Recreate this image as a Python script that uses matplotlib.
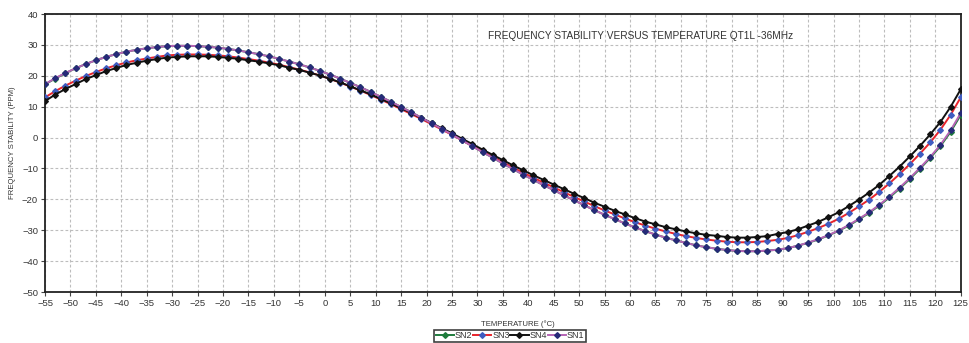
import numpy as np
import matplotlib
matplotlib.use("Agg")
import matplotlib.pyplot as plt
from matplotlib.lines import Line2D

plt.rcParams['font.family'] = ['Liberation Sans', 'DejaVu Sans']

temps = np.arange(-55, 126, 2)

sn1 = [17.3, 19.2, 20.9, 22.4, 23.8, 25.0, 26.1, 27.0, 27.8, 28.4,
       28.9, 29.3, 29.6, 29.7, 29.7, 29.6, 29.4, 29.1, 28.7, 28.2,
       27.6, 27.0, 26.3, 25.5, 24.6, 23.7, 22.7, 21.6, 20.4, 19.1,
       17.7, 16.3, 14.8, 13.2, 11.6, 9.9, 8.2, 6.4, 4.6, 2.8,
       1.0, -0.9, -2.8, -4.7, -6.5, -8.4, -10.2, -12.0, -13.7, -15.4,
       -17.0, -18.7, -20.3, -21.9, -23.5, -25.0, -26.4, -27.8, -29.1, -30.3,
       -31.4, -32.4, -33.3, -34.1, -34.9, -35.5, -36.0, -36.4, -36.7, -36.8,
       -36.8, -36.6, -36.3, -35.8, -35.0, -34.0, -32.9, -31.6, -30.1, -28.3,
       -26.3, -24.2, -21.8, -19.1, -16.2, -13.1, -9.8, -6.3, -2.4, 2.3,
       7.9]

sn2 = [17.2, 19.1, 20.8, 22.4, 23.8, 25.0, 26.1, 27.0, 27.8, 28.4,
       28.9, 29.3, 29.6, 29.7, 29.7, 29.6, 29.4, 29.1, 28.7, 28.2,
       27.6, 27.0, 26.3, 25.5, 24.6, 23.7, 22.7, 21.6, 20.4, 19.1,
       17.7, 16.3, 14.8, 13.2, 11.6, 9.9, 8.2, 6.4, 4.6, 2.8,
       1.0, -0.9, -2.8, -4.7, -6.5, -8.4, -10.2, -12.0, -13.7, -15.4,
       -17.0, -18.7, -20.3, -21.9, -23.5, -25.0, -26.4, -27.8, -29.1, -30.3,
       -31.4, -32.4, -33.3, -34.1, -34.9, -35.5, -36.0, -36.4, -36.7, -36.8,
       -36.8, -36.6, -36.3, -35.8, -35.0, -34.1, -33.0, -31.7, -30.2, -28.5,
       -26.5, -24.4, -22.0, -19.4, -16.5, -13.4, -10.1, -6.6, -2.8, 1.8,
       7.3]

sn3 = [13.0, 15.0, 16.8, 18.4, 19.9, 21.2, 22.4, 23.4, 24.3, 25.0,
       25.6, 26.1, 26.6, 26.8, 26.9, 26.9, 26.8, 26.6, 26.3, 25.9,
       25.4, 24.9, 24.3, 23.6, 22.8, 22.0, 21.1, 20.1, 19.0, 17.8,
       16.5, 15.2, 13.8, 12.3, 10.8, 9.2, 7.6, 6.0, 4.3, 2.6,
       0.9, -0.9, -2.7, -4.5, -6.2, -8.0, -9.7, -11.4, -13.0, -14.6,
       -16.1, -17.7, -19.2, -20.7, -22.2, -23.6, -24.9, -26.2, -27.4, -28.5,
       -29.5, -30.4, -31.2, -31.9, -32.5, -33.0, -33.4, -33.7, -33.9, -33.9,
       -33.8, -33.5, -33.1, -32.5, -31.6, -30.5, -29.3, -27.9, -26.3, -24.4,
       -22.3, -20.1, -17.6, -14.8, -11.8, -8.6, -5.2, -1.6, 2.5, 7.3,
       13.0]

sn4 = [11.8, 13.9, 15.7, 17.3, 18.9, 20.2, 21.5, 22.5, 23.5, 24.2,
       24.9, 25.4, 25.9, 26.1, 26.3, 26.3, 26.3, 26.1, 25.8, 25.5,
       25.0, 24.6, 24.0, 23.4, 22.6, 21.9, 21.0, 20.1, 19.0, 17.9,
       16.6, 15.3, 14.0, 12.5, 11.1, 9.5, 8.0, 6.3, 4.7, 3.0,
       1.4, -0.4, -2.1, -3.9, -5.6, -7.3, -9.0, -10.6, -12.2, -13.7,
       -15.2, -16.7, -18.2, -19.6, -21.1, -22.4, -23.7, -24.9, -26.1, -27.2,
       -28.1, -29.0, -29.7, -30.4, -31.0, -31.5, -31.8, -32.2, -32.4, -32.4,
       -32.2, -31.9, -31.2, -30.6, -29.7, -28.5, -27.3, -25.8, -24.2, -22.2,
       -20.1, -17.8, -15.3, -12.4, -9.4, -6.1, -2.7, 1.0, 5.0, 9.9,
       15.6]

series = [
    ("SN2", sn2, "#1e7b3c", "#1e7b3c"),
    ("SN3", sn3, "#e8242b", "#3f5cc0"),
    ("SN4", sn4, "#111111", "#111111"),
    ("SN1", sn1, "#b565b5", "#262a78"),
]

fig = plt.figure(figsize=(9.69, 3.43), dpi=100)
ax = fig.add_axes([45 / 969, 1 - 292 / 343, 915.7 / 969, 278 / 343])

handles = []
for name, vals, lc, mc in series:
    ax.plot(temps, vals, color=lc, lw=1.4, marker="D", ms=2.9,
            mfc=mc, mec=mc, zorder=3)
    handles.append(Line2D([], [], color=lc, lw=1.4, marker="D", ms=2.9,
                          mfc=mc, mec=mc, label=name))

ax.set_xlim(-55, 125)
ax.set_ylim(-50, 40)
ax.set_xticks(np.arange(-55, 126, 5))
ax.set_yticks(np.arange(-50, 41, 10))
ax.grid(True, color="#bdbdbd", ls=(0, (2.5, 2)), lw=0.8)
ax.set_axisbelow(True)
for sp in ax.spines.values():
    sp.set_color("#222222")
    sp.set_linewidth(1.3)
ax.tick_params(axis="both", labelsize=6.8, colors="#444444", length=3,
               width=0.8, pad=2)
for lab in ax.get_xticklabels() + ax.get_yticklabels():
    lab.set_color("#333333")

ax.text(0.4838, 0.921, "FREQUENCY STABILITY VERSUS TEMPERATURE QT1L -36MHz",
        transform=ax.transAxes, fontsize=7.3, color="#333333",
        ha="left", va="center")

fig.text(518 / 969, 1 - 324 / 343, "TEMPERATURE (\u00b0C)", fontsize=5.6,
         color="#333333", ha="center", va="center")
fig.text(13 / 969, 1 - 143 / 343, "FREQUENCY STABILITY (PPM)", fontsize=5.6,
         color="#333333", ha="center", va="center", rotation=90)

leg = fig.legend(handles=handles, loc="upper center", ncol=4,
                 bbox_to_anchor=(510 / 969, 1 - 330 / 343),
                 fontsize=6.5, frameon=True, fancybox=False,
                 handlelength=2.0, handletextpad=0.1, columnspacing=0.1,
                 borderpad=0.15, borderaxespad=0)
leg.get_frame().set_edgecolor("#111111")
leg.get_frame().set_linewidth(1.2)
for t in leg.get_texts():
    t.set_color("#333333")

fig.savefig("out.png", dpi=100)
